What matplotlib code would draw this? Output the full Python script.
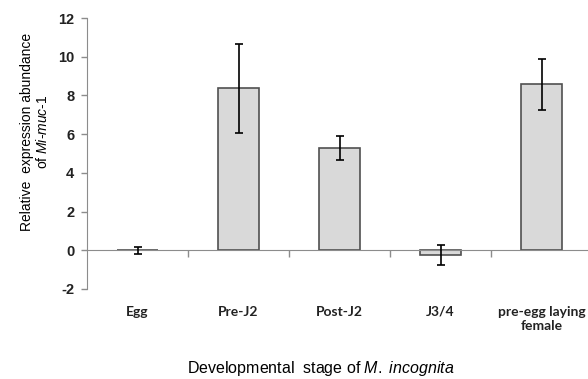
import numpy as np
import matplotlib
matplotlib.use("Agg")
import matplotlib.pyplot as plt

# datos
etapas = ["Egg", "Pre-J2", "Post-J2", "J3/4", "pre-egg laying\nfemale"]
abundancia = [0.0, 8.36, 5.26, -0.23, 8.57]
error = [0.19, 2.31, 0.62, 0.52, 1.31]
yticks = [-2, 0, 2, 4, 6, 8, 10, 12]

plt.rcParams['mathtext.fontset'] = 'custom'
plt.rcParams['mathtext.rm'] = 'Liberation Sans'
plt.rcParams['mathtext.it'] = 'Liberation Sans:italic'

fig = plt.figure(figsize=(5.88, 3.79), dpi=100)
# el eje derecho queda cortado como en la imagen original
ax = fig.add_axes([87/588, 90/379, 505/588, 271/379])

x = np.arange(len(etapas))
ax.bar(x, abundancia, width=0.4, color='#d9d9d9', edgecolor='#505050', linewidth=1.2, zorder=2)
ax.errorbar(x, abundancia, yerr=error, fmt='none', ecolor='black', elinewidth=1.2,
            capsize=3, capthick=1.2, zorder=3)

ax.set_xlim(-0.5, len(etapas) - 0.5)
ax.set_ylim(-2, 12)
ax.set_yticks(yticks)
ax.set_yticklabels([str(v) for v in yticks], fontsize=10.5, fontweight='bold',
                   family='Liberation Sans', color='#222222')

gris = '#8c8c8c'
for s in ['top', 'right']:
    ax.spines[s].set_visible(False)
ax.spines['left'].set_color(gris)
ax.spines['bottom'].set_color(gris)
ax.spines['bottom'].set_position(('data', 0))
ax.tick_params(axis='y', color=gris, length=4, width=1, pad=5)

# marcas entre categorias sobre la linea del cero
ax.set_xticks(x[:-1] + 0.5)
ax.set_xticklabels([])
ax.tick_params(axis='x', color=gris, length=5, width=1, direction='out')

# etiquetas de categoria debajo del area del grafico
sec = ax.secondary_xaxis(0)
sec.set_xticks(x)
sec.set_xticklabels(etapas, fontsize=10, family='Lato', fontweight='bold',
                    color='#222222', linespacing=1.25)
sec.tick_params(length=0, pad=12)
sec.spines['bottom'].set_visible(False)

fig.text(35/588, 1 - 132/379, "Relative  expression abundance\nof $\\mathit{Mi}$-$\\mathit{muc}$-$\\mathit{1}$",
         rotation=90, ha='center', va='center', multialignment='center',
         fontsize=10, family='Liberation Sans', linespacing=1.1)
fig.text(321/588, 1 - 368/379, "Developmental  stage of $\\mathit{M.\\ incognita}$",
         ha='center', va='center', fontsize=11.5, family='Liberation Sans')

plt.savefig('out.png', dpi=100)
